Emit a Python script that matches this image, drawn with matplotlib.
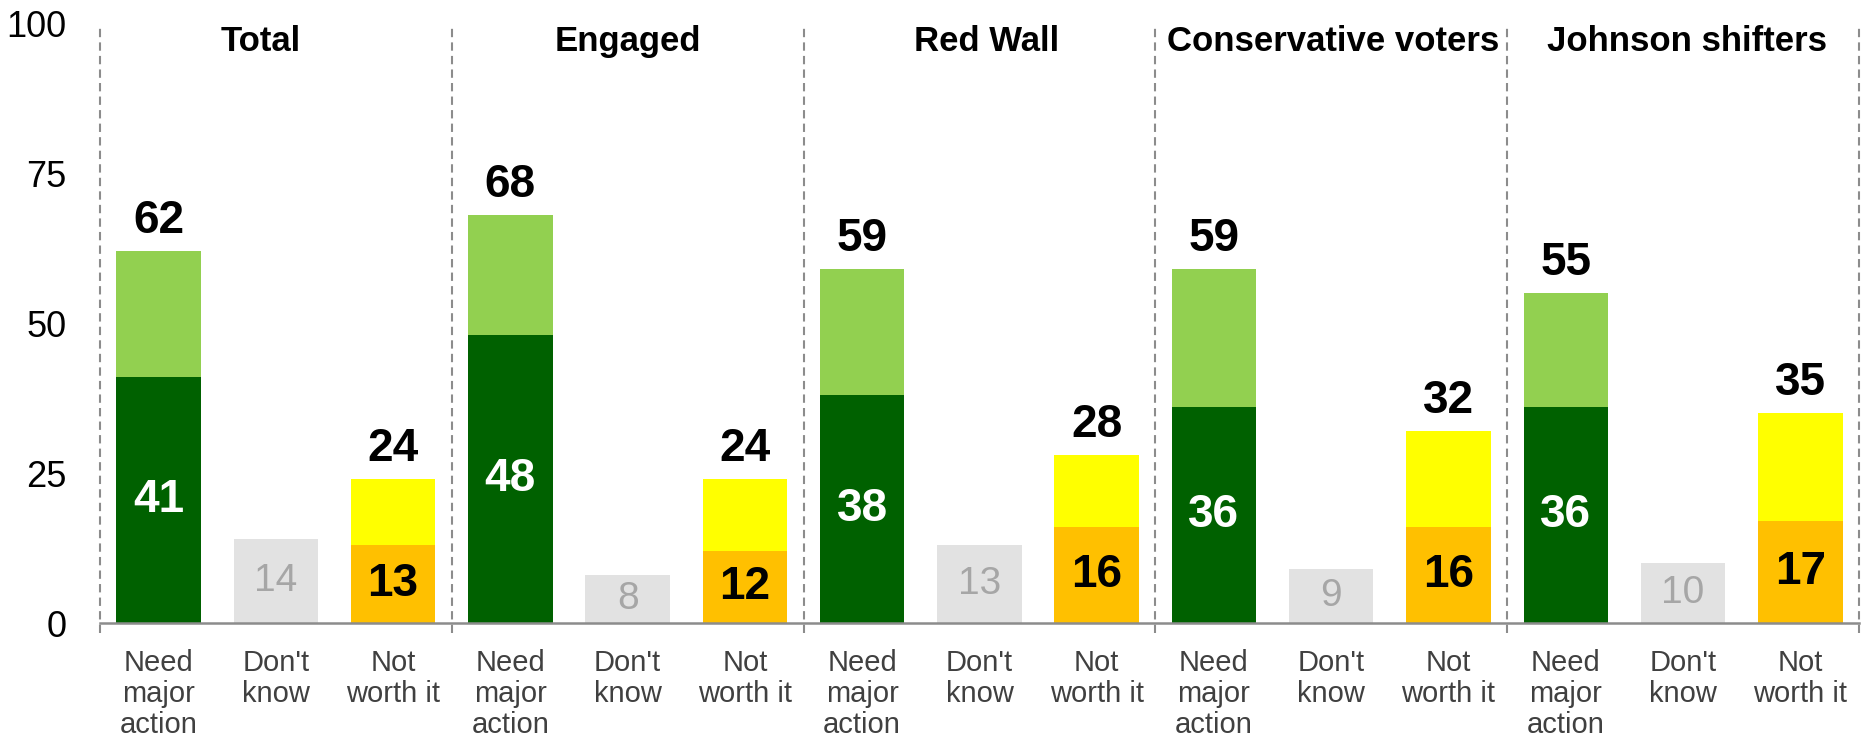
import numpy as np
import matplotlib.pyplot as plt

plt.rcParams['font.family'] = ['Liberation Sans', 'DejaVu Sans']

#%% Data
groups       = ['Total', 'Engaged', 'Red Wall', 'Conservative voters', 'Johnson shifters']
categories   = ['Need\nmajor\naction', "Don't\nknow", 'Not\nworth it']
need_total   = [62, 68, 59, 59, 55]
need_strong  = [41, 48, 38, 36, 36]
dont_know    = [14, 8, 13, 9, 10]
notworth_tot = [24, 24, 28, 32, 35]
notworth_str = [13, 12, 16, 16, 17]

c_dark_green  = '#006100'
c_light_green = '#92d050'
c_grey        = '#e2e2e2'
c_orange      = '#ffc000'
c_yellow      = '#ffff00'
c_sep         = '#8c8c8c'

# small horizontal nudges for the group titles (text boxes are not quite centred)
title_dx = [-0.13, 0.0, 0.06, 0.02, 0.03]

#%% Plot
fig = plt.figure(figsize=(18.64, 7.38), dpi=100)
ax  = fig.add_axes([0.0536, 0.1558, 0.9437, 0.8130])

n   = len(groups)
x   = np.arange(n) * 3
w   = 0.72

need_total   = np.array(need_total)
need_strong  = np.array(need_strong)
notworth_tot = np.array(notworth_tot)
notworth_str = np.array(notworth_str)

ax.bar(x, need_strong, w, color=c_dark_green)
ax.bar(x, need_total - need_strong, w, bottom=need_strong, color=c_light_green)
ax.bar(x + 1, dont_know, w, color=c_grey)
ax.bar(x + 2, notworth_str, w, color=c_orange)
ax.bar(x + 2, notworth_tot - notworth_str, w, bottom=notworth_str, color=c_yellow)

big = dict(fontsize=33, fontweight='bold', ha='center')
for i in range(n):
    # totals above bars
    ax.text(x[i], need_total[i] + 3, str(need_total[i]), va='baseline', color='black', **big)
    ax.text(x[i] + 2, notworth_tot[i] + 3, str(notworth_tot[i]), va='baseline', color='black', **big)
    # strong-segment values inside bars
    ax.text(x[i], need_strong[i] / 2, str(need_strong[i]), va='center', color='white', **big)
    ax.text(x[i] + 2, notworth_str[i] / 2, str(notworth_str[i]), va='center', color='black', **big)
    ax.text(x[i] + 1, dont_know[i] / 2, str(dont_know[i]), va='center', ha='center',
            fontsize=28, color='#a6a6a6')
    # group titles
    ax.text(x[i] + 1 + title_dx[i], 95.3, groups[i], va='baseline', ha='center', fontsize=25,
            fontweight='bold', color='black')
    # category labels under the axis
    for j, cat in enumerate(categories):
        ax.text(x[i] + j, -4.4, cat, va='top', ha='center', fontsize=21,
                color='#404040', linespacing=1.13, clip_on=False)

# group separators
seps = np.arange(n + 1) * 3 - 0.5
ax.vlines(seps, -1.7, 99.4, colors=c_sep, linestyles=(0, (4, 2.5)), lw=1.5, clip_on=False)

ax.set_xlim(-0.5, 3 * n - 0.5)
ax.set_ylim(0, 100)
ax.set_yticks([0, 25, 50, 75, 100])
ax.tick_params(axis='y', length=0, pad=24, labelsize=26, labelcolor='black')
ax.set_xticks([])

for s in ['top', 'right', 'left']:
    ax.spines[s].set_visible(False)
ax.spines['bottom'].set_color(c_sep)
ax.spines['bottom'].set_linewidth(1.8)

fig.savefig('out.png', dpi=100)
